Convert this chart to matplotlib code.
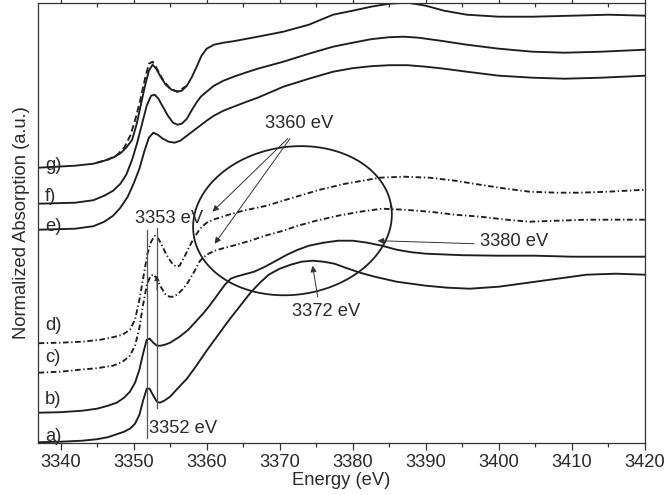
import numpy as np
import matplotlib
matplotlib.use("Agg")
import matplotlib.pyplot as plt
from matplotlib.ticker import MultipleLocator

plt.rcParams['font.family'] = ['Liberation Sans', 'DejaVu Sans']

# ---------------- data (energy in eV, absorption in arbitrary units) ----------
a_x = [3337, 3340, 3343, 3345, 3346.5, 3347.7, 3348.7, 3349.5, 3350.2, 3350.8, 3351.3, 3351.8, 3352.2,
       3352.7, 3353.2, 3353.6, 3354.2, 3355, 3356, 3357.3, 3358.5, 3360, 3361.5, 3363, 3364.5, 3366,
       3367.3, 3368.5, 3370, 3371.5, 3373, 3374.5, 3376, 3377.5, 3379, 3381, 3383, 3386, 3390, 3393,
       3396, 3400, 3404, 3408, 3412, 3416, 3420]
a_y = [0.5, 1, 2, 3.5, 5.5, 8.5, 11, 14, 19, 28, 42, 54, 54,
       47, 41, 40, 42, 46, 54, 64, 76, 92, 107, 122, 136, 150,
       160, 168, 174, 178, 181, 182, 181, 179, 175, 170, 166, 161, 157, 155,
       154, 156, 160, 164, 168, 169, 168]

b_x = [3337, 3340, 3343, 3345, 3346.5, 3347.7, 3348.7, 3349.5, 3350.2, 3350.8, 3351.3, 3351.8, 3352.2,
       3352.7, 3353.2, 3353.7, 3354.3, 3355, 3356.3, 3357.5, 3358.5, 3359.5, 3360.5, 3361.5, 3362.5,
       3363.3, 3364, 3365, 3366.5, 3368, 3369.5, 3371, 3372.5, 3374, 3376, 3378, 3380, 3382, 3384,
       3386, 3388, 3390, 3395, 3400, 3405, 3410, 3415, 3420]
b_y = [30, 30.5, 32, 34, 37, 40, 45, 51, 60, 73, 89, 103, 104,
       100, 97, 97, 98, 100, 106, 113, 121, 129, 138, 148, 158,
       164, 166, 168, 171, 176, 182, 188, 193, 197, 200, 202, 202, 200, 197,
       193, 190.5, 189, 187.5, 187, 187, 186, 186, 186]

c_x = [3337, 3340, 3342.7, 3345, 3347.2, 3348.5, 3349.5, 3350.2, 3350.8, 3351.3, 3351.8, 3352.3,
       3352.8, 3353.3, 3353.8, 3354.3, 3354.9, 3355.5, 3356.1, 3356.8, 3357.5, 3358.3, 3359.1, 3360,
       3361.1, 3362.3, 3363.6, 3366, 3368, 3370.5, 3372.5, 3375, 3378, 3381, 3384, 3387, 3390.5,
       3394, 3397.5, 3401, 3404.2, 3408, 3412, 3416, 3420]
c_y = [70, 71, 73, 74.5, 77, 81, 87, 97, 115, 138, 157, 167,
       168, 162, 155, 149, 146, 146, 149, 154, 161, 171, 182, 188,
       192, 194.5, 197, 202, 207, 212, 217, 222, 227, 231, 234, 233, 231,
       228, 226, 223, 221, 222, 223, 223, 223]

d_x = [3337, 3340, 3343, 3345.5, 3347.2, 3348.5, 3349.5, 3350.2, 3350.8, 3351.4, 3351.9, 3352.4,
       3352.9, 3353.4, 3353.9, 3354.5, 3355.2, 3355.8, 3356.3, 3356.9, 3357.5, 3358.2, 3359.1, 3360,
       3360.9, 3363, 3365, 3368.2, 3371.8, 3375.5, 3379, 3383.7, 3387, 3390.5, 3394, 3397.4, 3401,
       3404.2, 3408, 3411, 3415, 3420]
d_y = [99.5, 100, 101, 103, 105.5, 108, 113, 123, 143, 168, 189, 201,
       207, 204, 197, 188, 180, 176, 177, 185, 194, 204, 214, 220,
       223, 228, 232, 237, 245, 253, 259, 265, 266, 265, 262, 258, 254,
       251, 250, 250, 251, 253]

e_x = [3337, 3342, 3344.5, 3346, 3347.2, 3348.2, 3349.2, 3350, 3350.8, 3351.5, 3352.1, 3352.7,
       3353.3, 3354, 3354.8, 3355.6, 3356.4, 3357.3, 3358.2, 3359.1, 3360, 3361, 3362.3, 3363.7,
       3365.3, 3367, 3370.5, 3374, 3377.3, 3380, 3382.5, 3385, 3387.5, 3390, 3392.5, 3395.6, 3400,
       3404.6, 3409, 3414, 3420]
e_y = [213, 214, 216.5, 221, 227, 235, 246, 259, 274, 292, 305, 310,
       308, 304, 301, 300, 302, 307, 312, 317, 322, 327, 332, 336,
       340.5, 345, 356, 364, 371, 374.5, 376.5, 377.5, 377.5, 376, 374, 371, 367,
       365, 364, 365, 367]

f_x = [3337, 3342, 3344.5, 3346, 3347.2, 3348.2, 3349, 3349.8, 3350.5, 3351.2, 3351.8, 3352.4,
       3352.9, 3353.4, 3354, 3354.7, 3355.4, 3356, 3356.6, 3357.3, 3358, 3358.6, 3359.2, 3360,
       3361, 3362.3, 3363.7, 3365.3, 3367, 3370.5, 3374, 3377.3, 3380, 3382.5, 3385, 3387, 3389,
       3392, 3395.6, 3400, 3404.6, 3409, 3414, 3420]
f_y = [239, 240, 242.5, 247, 252, 259, 268, 283, 300, 320, 337, 347,
       348, 344, 336, 327, 320, 318, 319, 324, 333, 340, 346, 351,
       357, 362, 366, 370, 374, 381, 389, 396, 400, 403.5, 405.5, 406, 405,
       402, 398, 394, 391, 390, 391, 393]

g_x = [3337, 3342, 3344.5, 3346, 3347.3, 3348.3, 3349.1, 3349.8, 3350.4, 3351, 3351.6, 3352.1,
       3352.6, 3353.1, 3353.7, 3354.4, 3355.2, 3356, 3356.6, 3357.3, 3358, 3358.7, 3359.3, 3360,
       3361, 3362.3, 3363.7, 3367, 3370.5, 3374, 3377.3, 3380, 3382.5, 3385, 3387.5, 3390, 3392.5,
       3395.6, 3400, 3404.6, 3410, 3415, 3420]
g_y = [275, 277, 279, 282, 285.5, 290, 296, 303, 318, 338, 358, 372,
       378, 374, 366, 358, 353, 351, 352, 357, 366, 377, 387, 394,
       398, 400, 401.5, 406, 411, 418, 428, 432, 436, 439, 440, 437, 432,
       428, 426, 426, 427, 428, 427]

# dashed companion of g (edge slightly shifted to lower energy)
gd_x = [3345, 3346.5, 3347.8, 3348.8, 3349.6, 3350.3, 3350.9, 3351.5, 3352.1, 3352.6, 3353.2,
        3354, 3355, 3356, 3357.3]
gd_y = [280, 283, 288, 296, 308, 325, 342, 362, 379, 381, 374,
        363, 354, 351, 357]

labels = ['a)', 'b)', 'c)', 'd)', 'e)', 'f)', 'g)']
label_y = [6, 43, 85, 117, 216, 246, 277]

xticks = [3340, 3350, 3360, 3370, 3380, 3390, 3400, 3410, 3420]

# ---------------- figure ----------------
fig = plt.figure(figsize=(6.66, 4.95), dpi=100)
ax = fig.add_axes([38.3 / 666, 1 - 442.7 / 495, (645 - 38.3) / 666, (442.7 - 2.7) / 495])

LC = '#1e1e1e'
LW = 1.35
DASHDOT = (0, (3, 1.4, 0.7, 1.4))
for xs, ys in [(a_x, a_y), (b_x, b_y), (e_x, e_y), (f_x, f_y), (g_x, g_y)]:
    ax.plot(xs, ys, color=LC, lw=LW, solid_joinstyle='round')
ax.plot(c_x, c_y, color=LC, lw=LW, ls=DASHDOT)
ax.plot(d_x, d_y, color=LC, lw=LW, ls=DASHDOT)
ax.plot(gd_x, gd_y, color=LC, lw=LW, ls=(0, (3.5, 1.8)))

ax.set_xlim(3336.96, 3420)
ax.set_ylim(0, 440)

# vertical marker lines
ax.plot([3351.85, 3351.85], [5, 213], color='#555555', lw=0.9)
ax.plot([3353.2, 3353.2], [35, 215], color='#555555', lw=0.9)
ax.annotate('', xy=(3353.2, 170), xytext=(3353.2, 150),
            arrowprops=dict(arrowstyle='-|>', color='#333333', lw=0.6, mutation_scale=8))

# ellipse annotation (computed in pixel-like space, converted to data)
PX_PER_EV = 7.32
t = np.linspace(0, 2 * np.pi, 400)
th = np.deg2rad(8)
ea, eb = 100, 74
ex = ea * np.cos(t) * np.cos(th) - eb * np.sin(t) * np.sin(th)
ey = ea * np.cos(t) * np.sin(th) + eb * np.sin(t) * np.cos(th)
ax.plot(3371.75 + ex / PX_PER_EV, 222 + ey, color=LC, lw=1.3)

FS = 13.2
TC = '#2a2a2a'
arrow_kw = dict(arrowstyle='-|>', color='#333333', lw=0.7, mutation_scale=9, shrinkA=0, shrinkB=0)

ax.text(3372.7, 319, '3360 eV', fontsize=FS, color=TC, ha='center', va='center')
ax.annotate('', xy=(3360.8, 231), xytext=(3371.1, 304), arrowprops=arrow_kw)
ax.annotate('', xy=(3361.1, 199), xytext=(3371.4, 304), arrowprops=arrow_kw)

ax.text(3354.8, 224, '3353 eV', fontsize=FS, color=TC, ha='center', va='center')
ax.text(3352.1, 14, '3352 eV', fontsize=FS, color=TC, ha='left', va='center')

ax.text(3402.1, 201, '3380 eV', fontsize=FS, color=TC, ha='center', va='center')
ax.annotate('', xy=(3383.4, 202), xytext=(3396.6, 199), arrowprops=arrow_kw)

ax.text(3376.4, 131, '3372 eV', fontsize=FS, color=TC, ha='center', va='center')
ax.annotate('', xy=(3374.5, 177), xytext=(3375.2, 146), arrowprops=arrow_kw)

for lab, ly in zip(labels, label_y):
    ax.text(3337.9, ly, lab, fontsize=FS, color=TC, ha='left', va='center')

# axes styling
ax.set_xticks(xticks)
ax.xaxis.set_minor_locator(MultipleLocator(5))
ax.set_yticks([])
ax.tick_params(axis='x', which='both', direction='out', top=True, bottom=True,
               labelsize=FS, colors='#333333', width=0.9)
ax.tick_params(axis='x', which='major', length=5)
ax.tick_params(axis='x', which='minor', length=3)
# top ticks point inward
for tk in ax.xaxis.get_major_ticks() + ax.xaxis.get_minor_ticks():
    tk.tick2line.set_marker(matplotlib.lines.TICKDOWN)
for sp in ax.spines.values():
    sp.set_color('#333333')
    sp.set_linewidth(0.9)
ax.tick_params(axis='x', labelcolor=TC, pad=3)

ax.set_xlabel('Energy (eV)', fontsize=FS, color=TC, labelpad=1)
ax.set_ylabel('Normalized Absorption (a.u.)', fontsize=FS, color=TC, labelpad=6)

fig.savefig('out.png', dpi=100)
